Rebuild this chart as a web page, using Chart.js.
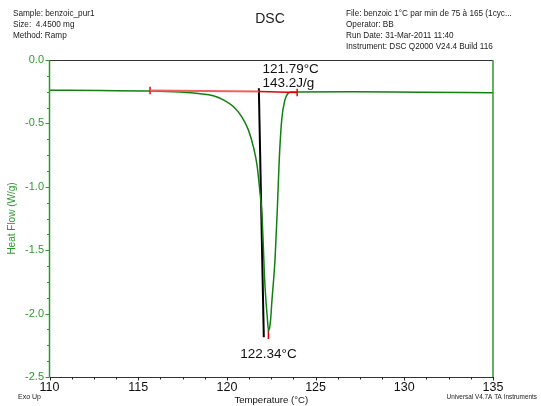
<!DOCTYPE html>
<html>
<head>
<meta charset="utf-8">
<script src="https://cdn.jsdelivr.net/npm/chart.js@4/dist/chart.umd.min.js"></script>
<style>
  body { margin: 0; background: #fff; }
  #wrap { width: 541px; height: 406px; position: relative; }
</style>
</head>
<body>
<div id="wrap"><canvas id="dsc" width="541" height="406"></canvas></div>
<script>
// Courbe DSC (température en °C, flux de chaleur en W/g)
const temperatures = [110, 112.85, 115.67, 117.36, 118.49, 119.23, 119.80, 120.36, 120.83, 121.21, 121.49, 121.71,
  121.87, 121.96, 122.04, 122.12, 122.20, 122.29, 122.34, 122.40, 122.46, 122.54, 122.71, 122.84, 122.95,
  123.09, 123.27, 123.46, 123.65, 126.94, 130.88, 135];
const fluxChaleur = [-0.238, -0.241, -0.244, -0.253, -0.266, -0.282, -0.314, -0.367, -0.446, -0.551, -0.683, -0.841,
  -1.051, -1.183, -1.421, -1.711, -1.895, -2.053, -2.132, -2.116, -2.053, -1.895, -1.579, -1.183, -0.788,
  -0.472, -0.314, -0.261, -0.253, -0.251, -0.255, -0.258];

// Ligne de base d'intégration (rouge) et tangente d'onset (noire)
const baseT = [115.67, 121.80, 123.96];
const baseHF = [-0.240, -0.249, -0.256];
const onsetT = [121.80, 122.08];
const onsetHF = [-0.222, -2.186];
const picT = 122.34;
const picHF = [-2.13, -2.20];

// Graduations
const xTicks = [110, 115, 120, 125, 130, 135];
const yTicks = [0, -0.5, -1.0, -1.5, -2.0, -2.5];

// Textes
const enteteGauche = ['Sample: benzoic_pur1', 'Size:  4.4500 mg', 'Method: Ramp'];
const enteteDroite = ['File: benzoic 1°C par min de 75 à 165 (1cyc...', 'Operator: BB',
  'Run Date: 31-Mar-2011 11:40', 'Instrument: DSC Q2000 V24.4 Build 116'];
const etiquettes = [
  { t: 122.0, v: -0.072, texte: '121.79°C', align: 'left' },
  { t: 122.0, v: -0.185, texte: '143.2J/g', align: 'left' },
  { t: 122.34, v: -2.32, texte: '122.34°C', align: 'center' }
];

const VERT = '#2e9a2e';
const police = '"Liberation Sans", Arial, sans-serif';

const pts = (xs, ys) => xs.map((x, i) => ({ x: x, y: ys[i] }));

const decor = {
  id: 'decor',
  afterDraw(chart) {
    const ctx = chart.ctx;
    const a = chart.chartArea;
    const sx = chart.scales.x, sy = chart.scales.y;
    ctx.save();
    // cadre
    ctx.lineWidth = 1;
    ctx.strokeStyle = '#333';
    ctx.beginPath();
    ctx.moveTo(a.left, a.top + 0.5); ctx.lineTo(a.right, a.top + 0.5);
    ctx.moveTo(a.left, a.bottom + 0.5); ctx.lineTo(a.right, a.bottom + 0.5);
    ctx.stroke();
    ctx.strokeStyle = VERT;
    ctx.lineWidth = 1.5;
    ctx.beginPath();
    ctx.moveTo(a.left, a.top); ctx.lineTo(a.left, a.bottom);
    ctx.moveTo(a.right, a.top); ctx.lineTo(a.right, a.bottom);
    ctx.stroke();

    // petites graduations
    ctx.lineWidth = 1;
    ctx.beginPath();
    for (let v = 0; v >= -2.5001; v -= 0.125) {
      const y = Math.round(sy.getPixelForValue(v)) + 0.5;
      const major = Math.abs(v * 2 - Math.round(v * 2)) < 1e-6;
      ctx.moveTo(a.left, y); ctx.lineTo(a.left - (major ? 4 : 2.5), y);
    }
    ctx.stroke();
    ctx.strokeStyle = '#222';
    ctx.beginPath();
    for (let t = 110; t <= 135.001; t += 1.25) {
      const x = Math.round(sx.getPixelForValue(t)) + 0.5;
      const major = Math.abs(t / 5 - Math.round(t / 5)) < 1e-6;
      ctx.moveTo(x, a.bottom); ctx.lineTo(x, a.bottom + (major ? 3.5 : 2.5));
    }
    ctx.stroke();

    // étiquettes du pic
    ctx.fillStyle = '#111';
    ctx.font = '13.5px ' + police;
    ctx.textBaseline = 'middle';
    etiquettes.forEach(e => {
      ctx.textAlign = e.align;
      ctx.fillText(e.texte, sx.getPixelForValue(e.t), sy.getPixelForValue(e.v));
    });

    // en-tête
    ctx.font = '8.2px ' + police;
    ctx.textAlign = 'left';
    ctx.fillStyle = '#222';
    enteteGauche.forEach((l, i) => ctx.fillText(l, 13, 14 + i * 10.8));
    enteteDroite.forEach((l, i) => ctx.fillText(l, 346, 14 + i * 10.8));
    ctx.font = '14px ' + police;
    ctx.textAlign = 'center';
    ctx.fillText('DSC', 270, 19);

    ctx.font = '7px ' + police;
    ctx.textAlign = 'left';
    ctx.fillText('Exo Up', 18, 397);
    ctx.font = '6.4px ' + police;
    ctx.textAlign = 'right';
    ctx.fillText('Universal V4.7A TA Instruments', 537, 397);
    ctx.restore();
  }
};

new Chart(document.getElementById('dsc'), {
  type: 'scatter',
  data: {
    datasets: [
      {
        data: pts(baseT, baseHF),
        showLine: true, pointRadius: 0, borderWidth: 1.5, borderColor: '#e00000',
        segment: {
          borderColor: c => c.p0DataIndex === 0 ? '#f06060' : '#e00000',
          borderWidth: c => c.p0DataIndex === 0 ? 2 : 1.5
        }
      },
      {
        data: pts(temperatures, fluxChaleur),
        showLine: true, pointRadius: 0, borderWidth: 1.5, borderColor: '#108010',
        cubicInterpolationMode: 'monotone'
      },
      {
        data: pts(onsetT, onsetHF),
        showLine: true, pointRadius: 0, borderWidth: 2, borderColor: '#000'
      },
      {
        data: pts([picT, picT], picHF),
        showLine: true, pointRadius: 0, borderWidth: 1.5, borderColor: '#e00000'
      },
      {
        data: pts([baseT[0], baseT[0]], [baseHF[0] + 0.03, baseHF[0] - 0.03]),
        showLine: true, pointRadius: 0, borderWidth: 1.5, borderColor: '#e00000'
      },
      {
        data: pts([baseT[2], baseT[2]], [baseHF[2] + 0.03, baseHF[2] - 0.03]),
        showLine: true, pointRadius: 0, borderWidth: 1.5, borderColor: '#e00000'
      }
    ]
  },
  options: {
    responsive: false,
    animation: false,
    layout: { padding: { left: 0, top: 60, right: 48, bottom: 0 } },
    plugins: { legend: { display: false }, tooltip: { enabled: false } },
    scales: {
      x: {
        type: 'linear', min: 110, max: 135,
        afterBuildTicks: s => { s.ticks = xTicks.map(v => ({ value: v })); },
        afterFit: s => { s.height = 29; },
        grid: { display: false, drawTicks: false },
        border: { display: false },
        ticks: { color: '#111', font: { family: police, size: 12.5 }, padding: 3, maxRotation: 0,
          callback: v => String(v) },
        title: { display: true, text: 'Temperature (°C)', color: '#111',
          font: { family: police, size: 9.6 }, padding: { top: 0, bottom: 0 } }
      },
      y: {
        type: 'linear', min: -2.5, max: 0,
        afterBuildTicks: s => { s.ticks = yTicks.map(v => ({ value: v })); },
        afterFit: s => { s.width = 49.5; },
        grid: { display: false, drawTicks: false },
        border: { display: false },
        ticks: { color: VERT, font: { family: police, size: 11 }, padding: 5.5,
          callback: v => v.toFixed(1) },
        title: { display: true, text: 'Heat Flow (W/g)', color: VERT,
          font: { family: police, size: 10 }, padding: { top: 6.5, bottom: 0 } }
      }
    }
  },
  plugins: [decor]
});
</script>
</body>
</html>
